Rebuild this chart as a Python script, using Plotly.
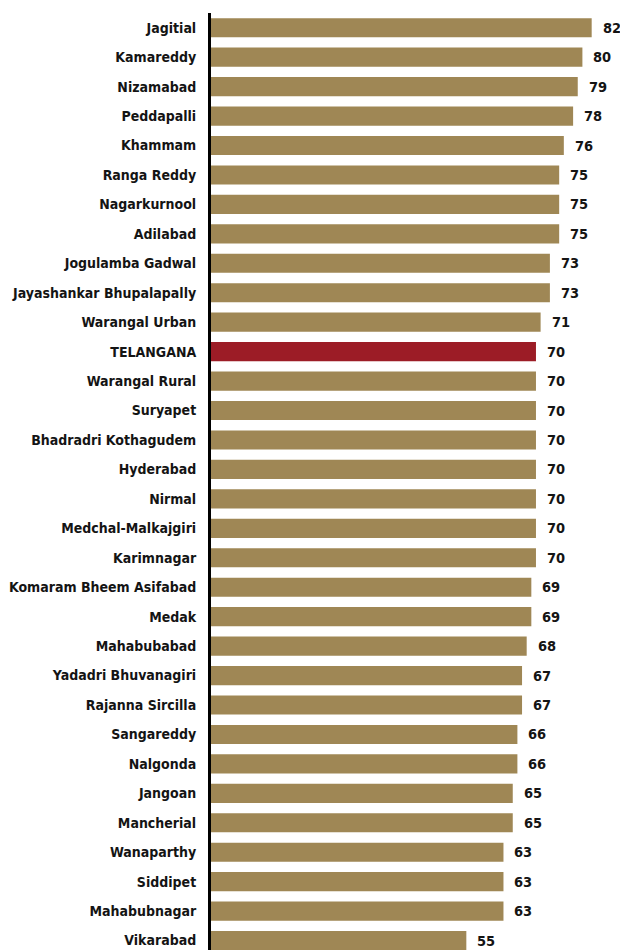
import plotly.graph_objects as go

# District values (top to bottom)
districts = [
    "Jagitial", "Kamareddy", "Nizamabad", "Peddapalli", "Khammam",
    "Ranga Reddy", "Nagarkurnool", "Adilabad", "Jogulamba Gadwal",
    "Jayashankar Bhupalapally", "Warangal Urban", "TELANGANA",
    "Warangal Rural", "Suryapet", "Bhadradri Kothagudem", "Hyderabad",
    "Nirmal", "Medchal-Malkajgiri", "Karimnagar", "Komaram Bheem Asifabad",
    "Medak", "Mahabubabad", "Yadadri Bhuvanagiri", "Rajanna Sircilla",
    "Sangareddy", "Nalgonda", "Jangoan", "Mancherial", "Wanaparthy",
    "Siddipet", "Mahabubnagar", "Vikarabad",
]
values = [
    82, 80, 79, 78, 76, 75, 75, 75, 73, 73, 71, 70, 70, 70, 70, 70,
    70, 70, 70, 69, 69, 68, 67, 67, 66, 66, 65, 65, 63, 63, 63, 55,
]

TAN = "#9f8755"
RED = "#9c1c26"
FONT = "DejaVu Sans Condensed, sans-serif"

colors = [RED if d == "TELANGANA" else TAN for d in districts]

fig = go.Figure(
    go.Bar(
        x=values,
        y=districts,
        orientation="h",
        marker=dict(color=colors, line=dict(width=0)),
        width=0.65,
        hoverinfo="x+y",
    )
)

# value labels just past the end of each bar
for d, v in zip(districts, values):
    fig.add_annotation(
        x=v, y=d, text=str(v), showarrow=False,
        xanchor="left", yanchor="middle", xshift=9,
        font=dict(family=FONT, size=14.5, color="#141414", weight="bold"),
    )

fig.update_layout(
    width=620,
    height=950,
    margin=dict(l=211, r=0, t=13, b=0),
    paper_bgcolor="white",
    plot_bgcolor="white",
    showlegend=False,
    bargap=0.35,
    font=dict(family=FONT, size=14, color="#141414"),
)
fig.update_xaxes(
    range=[0, 88.1], visible=False, showgrid=False, zeroline=False,
)
fig.update_yaxes(
    type="category",
    categoryorder="array",
    categoryarray=districts,
    range=[31.32, -0.5],
    showline=True, linecolor="black", linewidth=3,
    showgrid=False, zeroline=False, ticks="",
    ticklabelstandoff=9,
    tickfont=dict(family=FONT, size=14, color="#141414", weight="bold"),
)

fig.write_html("out.html")
